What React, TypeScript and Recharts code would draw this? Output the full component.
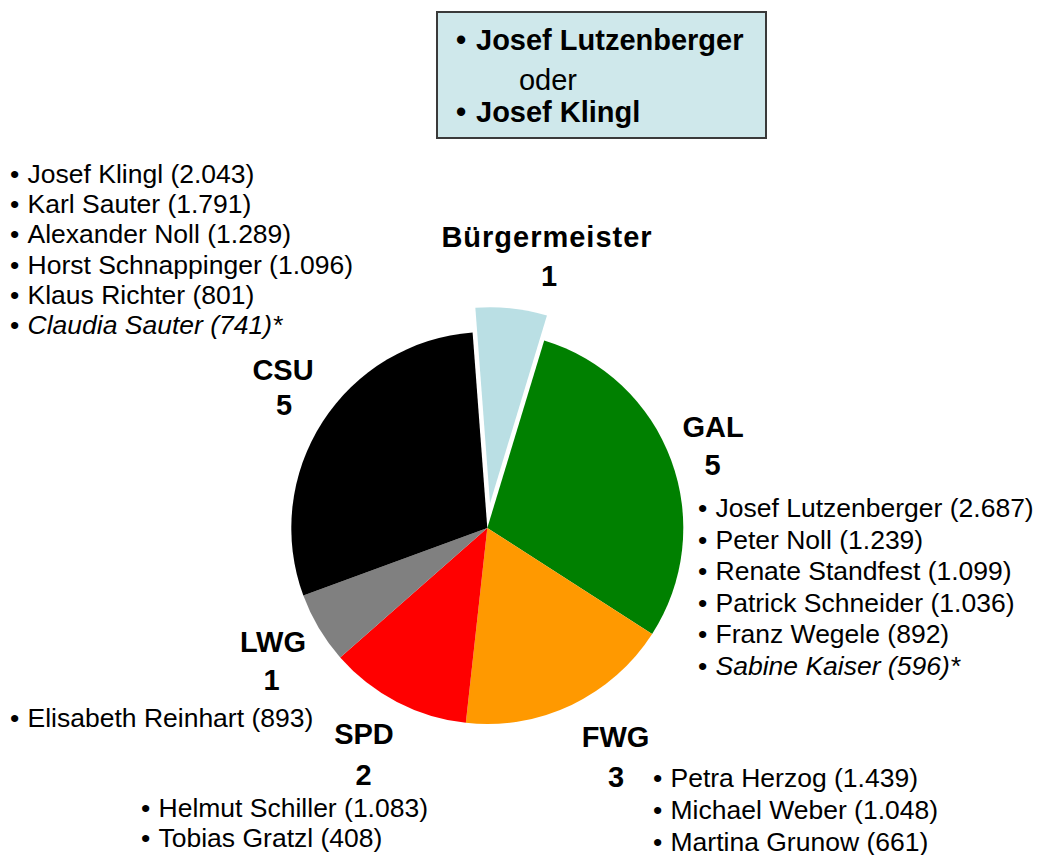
import { PieChart, Pie, Cell } from 'recharts';

// Sitzverteilung Gemeinderat
const parties = ['Bürgermeister', 'GAL', 'FWG', 'SPD', 'LWG', 'CSU'];
const seats = [1, 5, 3, 2, 1, 5];
const colors = ['#BADFE4', '#008000', '#FF9900', '#FF0000', '#808080', '#000000'];

// gewählte Kandidaten (Stimmen), Nachrücker kursiv mit *
const csuCandidates = [
  { name: 'Josef Klingl', votes: '2.043' },
  { name: 'Karl Sauter', votes: '1.791' },
  { name: 'Alexander Noll', votes: '1.289' },
  { name: 'Horst Schnappinger', votes: '1.096' },
  { name: 'Klaus Richter', votes: '801' },
  { name: 'Claudia Sauter', votes: '741', sub: true },
];
const galCandidates = [
  { name: 'Josef Lutzenberger', votes: '2.687' },
  { name: 'Peter Noll', votes: '1.239' },
  { name: 'Renate Standfest', votes: '1.099' },
  { name: 'Patrick Schneider', votes: '1.036' },
  { name: 'Franz Wegele', votes: '892' },
  { name: 'Sabine Kaiser', votes: '596', sub: true },
];
const fwgCandidates = [
  { name: 'Petra Herzog', votes: '1.439' },
  { name: 'Michael Weber', votes: '1.048' },
  { name: 'Martina Grunow', votes: '661' },
];
const spdCandidates = [
  { name: 'Helmut Schiller', votes: '1.083' },
  { name: 'Tobias Gratzl', votes: '408' },
];
const lwgCandidates = [{ name: 'Elisabeth Reinhart', votes: '893' }];

const mayorCandidates = ['Josef Lutzenberger', 'Josef Klingl'];

const data = parties.map((p, i) => ({ name: p, value: seats[i] }));

// layout
const FONT = "'Liberation Sans', Arial, Helvetica, sans-serif";
const CX = 487.3;
const CY = 528;
const R = 196;
const START = 94.3;
const EXPLODE = 25;

const labelPos: Record<string, { x: number; y: number; sx: number; sy: number }> = {
  'Bürgermeister': { x: 547, y: 237, sx: 549, sy: 276 },
  GAL: { x: 713, y: 427, sx: 712.5, sy: 465 },
  FWG: { x: 615.5, y: 736.5, sx: 616, sy: 776.5 },
  SPD: { x: 364, y: 734, sx: 363.5, sy: 775 },
  LWG: { x: 273, y: 642, sx: 271.5, sy: 680 },
  CSU: { x: 283, y: 370, sx: 284, sy: 405 },
};

const lists = [
  { items: csuCandidates, x: 10, y: 174, step: 30.2 },
  { items: galCandidates, x: 698, y: 508, step: 31.6 },
  { items: fwgCandidates, x: 653, y: 777.5, step: 32 },
  { items: spdCandidates, x: 141, y: 808, step: 30 },
  { items: lwgCandidates, x: 10, y: 718, step: 30 },
];

function TextLine({ x, y, center, size, bold, italic, children, spacing }: any) {
  return (
    <div
      style={{
        position: 'absolute',
        left: x,
        top: y - 20,
        height: 40,
        lineHeight: '40px',
        fontSize: size,
        fontFamily: FONT,
        fontWeight: bold ? 'bold' : 'normal',
        fontStyle: italic ? 'italic' : 'normal',
        letterSpacing: spacing || 0,
        whiteSpace: 'nowrap',
        color: '#000',
        transform: center ? 'translateX(-50%)' : undefined,
      }}
    >
      {children}
    </div>
  );
}

function Bullet({ x, y, gap, size, bold, italic, children }: any) {
  return (
    <>
      <TextLine x={x} y={y} size={size} bold={bold}>•</TextLine>
      <TextLine x={x + gap} y={y} size={size} bold={bold} italic={italic}>{children}</TextLine>
    </>
  );
}

export default function App() {
  // Mittelwinkel des Bürgermeister-Segments für den Versatz
  const mid = ((START - (seats[0] / 17) * 180) * Math.PI) / 180;
  const ox = EXPLODE * Math.cos(mid);
  const oy = -EXPLODE * Math.sin(mid);

  return (
    <div style={{ position: 'absolute', left: 0, top: 0, width: 1038, height: 855, background: '#fff' }}>
      <PieChart width={1038} height={855} margin={{ top: 0, right: 0, bottom: 0, left: 0 }}>
        <Pie
          data={data}
          dataKey="value"
          cx={CX}
          cy={CY}
          outerRadius={R}
          startAngle={START}
          endAngle={START - 360}
          stroke="none"
          isAnimationActive={false}
        >
          {data.map((d, i) => (
            <Cell key={d.name} fill={i === 0 ? 'none' : colors[i]} />
          ))}
        </Pie>
        <Pie
          data={data}
          dataKey="value"
          cx={CX + ox}
          cy={CY + oy}
          outerRadius={R}
          startAngle={START}
          endAngle={START - 360}
          stroke="none"
          isAnimationActive={false}
        >
          {data.map((d, i) => (
            <Cell key={d.name} fill={i === 0 ? colors[0] : 'none'} />
          ))}
        </Pie>
      </PieChart>

      {parties.map((p, i) => (
        <div key={p}>
          <TextLine x={labelPos[p].x} y={labelPos[p].y} center bold size={29} spacing={i === 0 ? 1 : 0}>
            {p}
          </TextLine>
          <TextLine x={labelPos[p].sx} y={labelPos[p].sy} center bold size={29}>
            {seats[i]}
          </TextLine>
        </div>
      ))}

      {lists.map((l, li) =>
        l.items.map((c: any, i: number) => (
          <Bullet key={`${li}-${i}`} x={l.x} y={l.y + i * l.step} gap={17.5} size={26.5} italic={c.sub}>
            {`${c.name} (${c.votes})${c.sub ? '*' : ''}`}
          </Bullet>
        ))
      )}

      <div
        style={{
          position: 'absolute',
          left: 436,
          top: 11,
          width: 327,
          height: 124,
          background: '#CFE8EB',
          border: '2px solid #3a3a3a',
        }}
      />
      <Bullet x={456} y={40} gap={20} bold size={29}>{mayorCandidates[0]}</Bullet>
      <TextLine x={548} y={80} center size={29}>oder</TextLine>
      <Bullet x={456} y={111.7} gap={20} bold size={29}>{mayorCandidates[1]}</Bullet>
    </div>
  );
}
